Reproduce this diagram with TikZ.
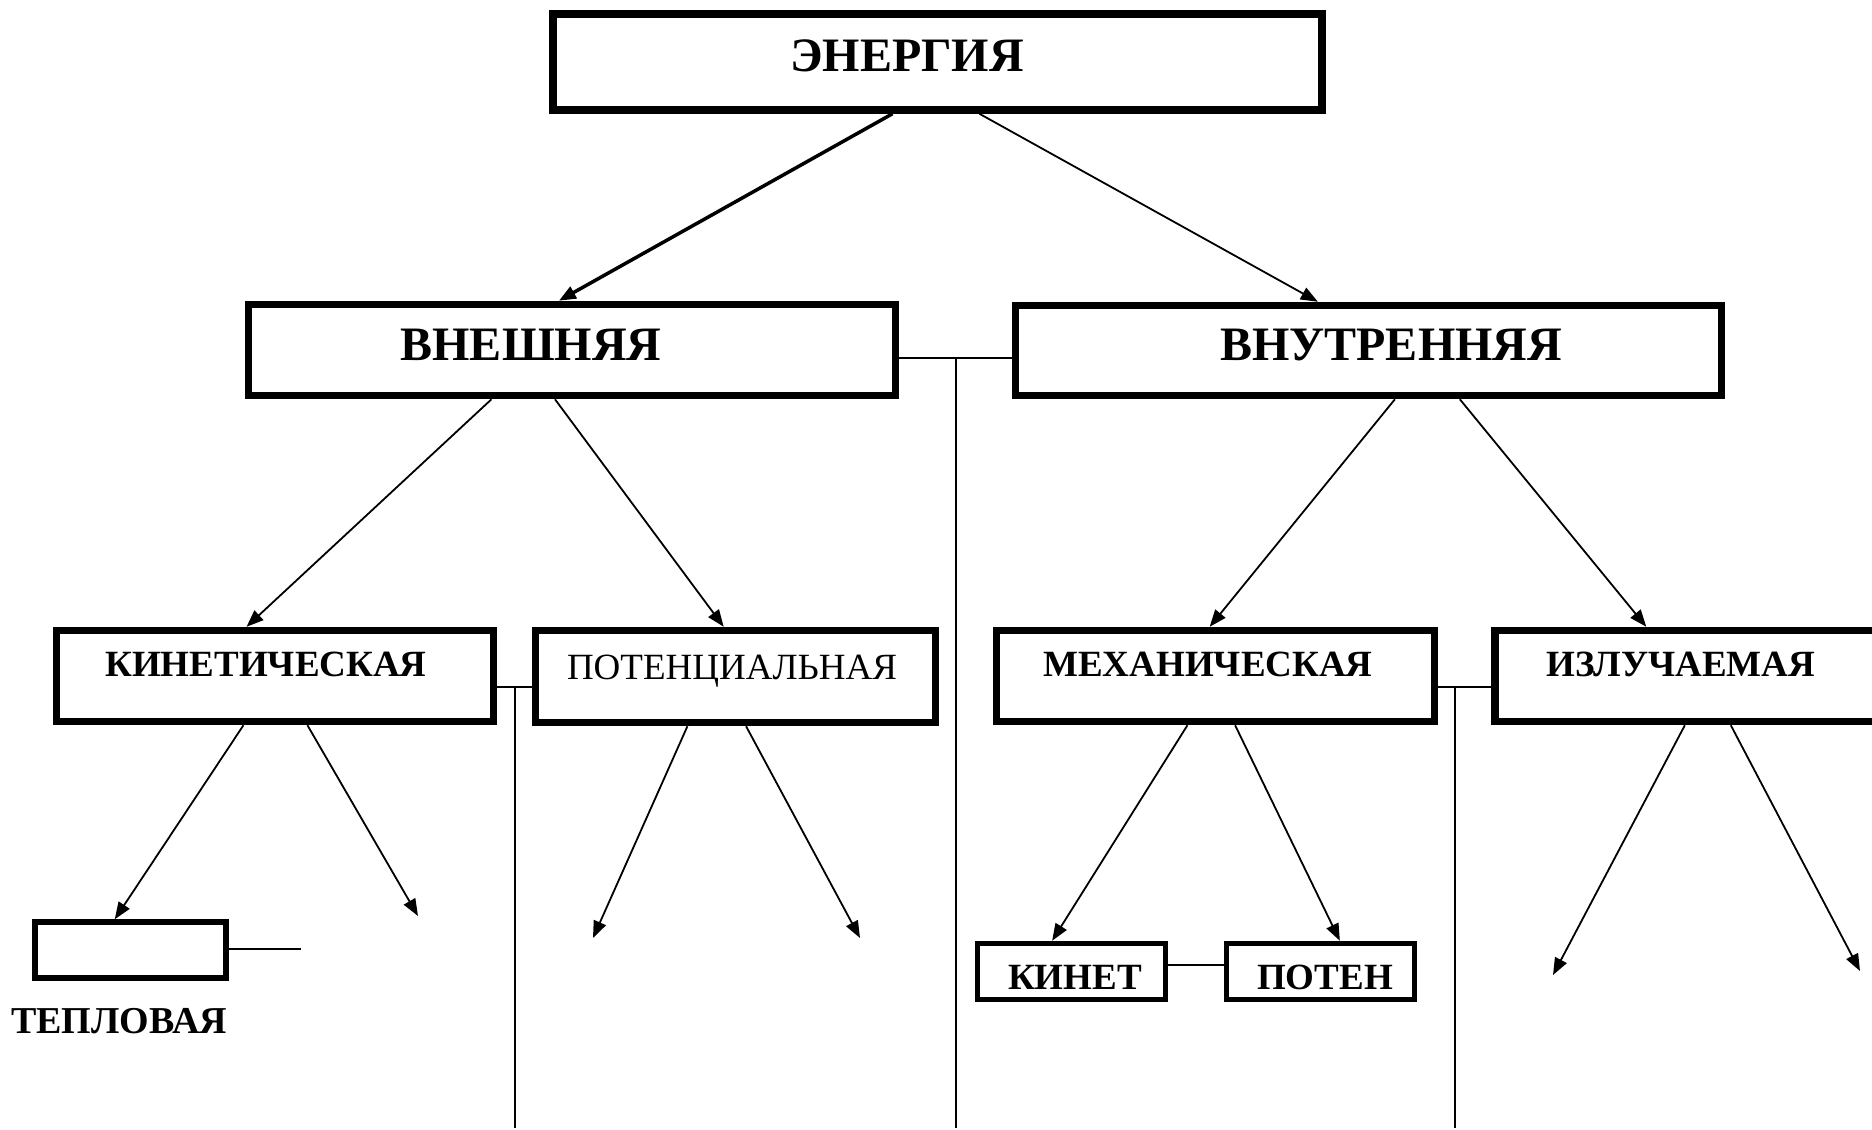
\documentclass[tikz,border=0pt]{standalone}
\usepackage{fontspec}
\setmainfont{Liberation Serif}
\usetikzlibrary{arrows.meta,calc}

\begin{document}
\begin{tikzpicture}[x=1pt,y=-1pt,
  box/.style={draw,line width=7.5pt,inner sep=0pt,minimum width=#1},
  smallbox/.style={draw,line width=5.5pt,inner sep=0pt,minimum width=#1,minimum height=56pt},
  lbl/.style={inner sep=0pt,font=\bfseries\fontsize{37}{40}\selectfont},
  biglbl/.style={inner sep=0pt,font=\bfseries\fontsize{48}{52}\selectfont},
  link/.style={line width=1.8pt},
  arr/.style={line width=1.8pt,-{Triangle[length=17pt,width=13pt]}},
  thickarr/.style={line width=3.5pt,-{Triangle[length=17pt,width=13pt]}}]

\useasboundingbox (0,0) rectangle (1872,1130);

% top level
\node[box=769pt,minimum height=96pt] (energy) at (937.5,62) {};
\node[biglbl] (t-energy) at (907,56) {ЭНЕРГИЯ};

% second level
\node[box=647pt,minimum height=91pt] (vnesh) at (572,350) {};
\node[biglbl] (t-vnesh) at (531,345) {ВНЕШНЯЯ};
\node[box=706pt,minimum height=90pt] (vnutr) at (1368.5,350.5) {};
\node[biglbl] (t-vnutr) at (1391,345) {ВНУТРЕННЯЯ};

% third level
\node[box=437pt,minimum height=91pt] (kin) at (275,676) {};
\node[lbl] (t-kin) at (266,664) {КИНЕТИЧЕСКАЯ};
\node[box=400pt,minimum height=92pt] (pot) at (735.5,676.5) {};
\node[lbl,font=\fontsize{37}{40}\selectfont] (t-pot) at (732,671) {ПОТЕНЦИАЛЬНАЯ};
\node[box=438pt,minimum height=91pt] (mech) at (1215.5,676) {};
\node[lbl] (t-mech) at (1208,664) {МЕХАНИЧЕСКАЯ};
\node[box=382pt,minimum height=91pt] (izl) at (1686,676) {};
\node[lbl] (t-izl) at (1681,664) {ИЗЛУЧАЕМАЯ};

% fourth level
\node[smallbox=191pt] (tep) at (130.5,950) {};
\node[lbl,font=\bfseries\fontsize{38}{40}\selectfont] (t-tep) at (119,1021) {ТЕПЛОВАЯ};
\node[smallbox=188pt] (kinet) at (1071.5,971.5) {};
\node[lbl] (t-kinet) at (1075,977) {КИНЕТ};
\node[smallbox=188pt] (poten) at (1320.5,971.5) {};
\node[lbl] (t-poten) at (1325,977) {ПОТЕН};

% junctions and free ends
\coordinate (j1) at (956,358);
\coordinate (j1b) at (956,1128);
\coordinate (j2) at (515,687);
\coordinate (j2b) at (515,1128);
\coordinate (j3) at (1455,687);
\coordinate (j3b) at (1455,1128);
\coordinate (tepend) at (301,949);
\coordinate (e-kin) at (418,916);
\coordinate (e-pot1) at (593,938);
\coordinate (e-pot2) at (860,938);
\coordinate (e-izl1) at (1553,975);
\coordinate (e-izl2) at (1860,971);
\coordinate (kp) at (0,965);

% energy -> external / internal
\draw[thickarr] ($(energy.south west)!0.442!(energy.south east)$) -- ($(vnesh.north west)!0.48!(vnesh.north east)$);
\draw[arr] ($(energy.south west)!0.554!(energy.south east)$) -- ($(vnutr.north west)!0.429!(vnutr.north east)$);

% external -> kinetic / potential
\draw[arr] ($(vnesh.south west)!0.377!(vnesh.south east)$) -- ($(kin.north west)!0.436!(kin.north east)$);
\draw[arr] ($(vnesh.south west)!0.474!(vnesh.south east)$) -- ($(pot.north west)!0.471!(pot.north east)$);

% internal -> mechanical / radiated
\draw[arr] ($(vnutr.south west)!0.537!(vnutr.south east)$) -- ($(mech.north west)!0.487!(mech.north east)$);
\draw[arr] ($(vnutr.south west)!0.628!(vnutr.south east)$) -- ($(izl.north west)!0.398!(izl.north east)$);

% kinetic branch
\draw[arr] ($(kin.south west)!0.429!(kin.south east)$) -- ($(tep.north west)!0.42!(tep.north east)$);
\draw[arr] ($(kin.south west)!0.573!(kin.south east)$) -- (e-kin);
\draw[link] (tep.east |- tepend) -- (tepend);

% potential branch
\draw[arr] ($(pot.south west)!0.382!(pot.south east)$) -- (e-pot1);
\draw[arr] ($(pot.south west)!0.526!(pot.south east)$) -- (e-pot2);

% mechanical branch
\draw[arr] ($(mech.south west)!0.437!(mech.south east)$) -- ($(kinet.north west)!0.40!(kinet.north east)$);
\draw[arr] ($(mech.south west)!0.544!(mech.south east)$) -- ($(poten.north west)!0.60!(poten.north east)$);
\draw[link] (kinet.east |- kp) -- (poten.west |- kp);

% radiated branch
\draw[arr] ($(izl.south west)!0.497!(izl.south east)$) -- (e-izl1);
\draw[arr] ($(izl.south west)!0.615!(izl.south east)$) -- (e-izl2);

% cross links with drop lines
\draw[link] (vnesh.east |- j1) -- (vnutr.west |- j1);
\draw[link] (j1) -- (j1b);
\draw[link] (kin.east |- j2) -- (pot.west |- j2);
\draw[link] (j2) -- (j2b);
\draw[link] (mech.east |- j3) -- (izl.west |- j3);
\draw[link] (j3) -- (j3b);
\end{tikzpicture}
\end{document}
